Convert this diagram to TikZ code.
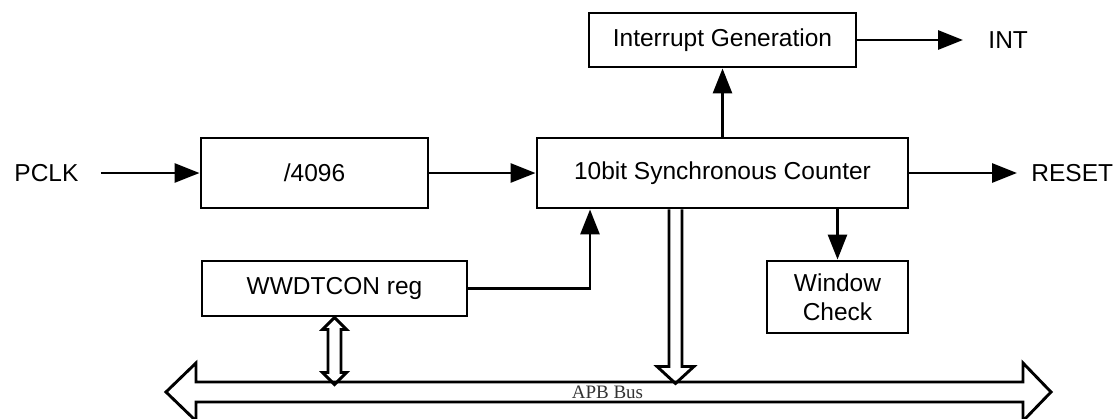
\documentclass[tikz,border=0pt]{standalone}
\usepackage{fontspec}
\setmainfont{Liberation Sans}
\newfontfamily\busfont{Liberation Serif}
\usetikzlibrary{arrows.meta}

\begin{document}
\begin{tikzpicture}[x=1pt, y=-1pt, line width=2.9pt,
		block/.style={draw, rectangle, inner sep=0pt, font=\fontsize{24.5}{29}\selectfont},
		lbl/.style={inner sep=0pt, anchor=west, font=\fontsize{24.5}{29}\selectfont},
		arr/.style={-{Triangle[length=25pt,width=19pt]}},
		hollow/.style={draw, line join=miter}]
	\useasboundingbox (0,0) rectangle (1120,418);

		\node[block, minimum width=227pt, minimum height=70pt] (div) at (314.5,173) {/4096};             % Делитель
		\node[block, minimum width=371pt, minimum height=70pt] (cnt) at (722.5,173) {10bit Synchronous Counter}; % Счётчик
		\node[block, minimum width=267pt, minimum height=54pt] (irq) at (722.5,40) {Interrupt Generation};
		\node[block, minimum width=265pt, minimum height=55pt] (wdt) at (334.5,288.5) {WWDTCON reg};
		\node[block, minimum width=141pt, minimum height=72pt, align=center] (win) at (837.5,297) {Window\\Check};

		\node[lbl] (pclk) at (13,173) {PCLK};
		\node[lbl] (int) at (987,40) {INT};
		\node[lbl] (reset) at (1030,173) {RESET};

		\draw[arr] ([xshift=21pt]pclk.east) -- (div.west); % Вход PCLK
		\draw[arr] (div.east) -- (cnt.west);
		\draw[arr] (cnt.north) -- (irq.south);
		\draw[arr] (irq.east) -- ([xshift=-24pt]int.west);
		\draw[arr] (cnt.east) -- ([xshift=-13pt]reset.west);
		\draw[arr] (wdt.east) -| ([xshift=-132.5pt]cnt.south);
		\draw[arr] (cnt.south -| win.north) -- (win.north);

		% Шина APB
		\draw[hollow] (166,392) -- (196,363) -- (196,382) -- (1023,382) -- (1023,363) -- (1051,392)
			-- (1023,421) -- (1023,402) -- (196,402) -- (196,421) -- cycle;
		\draw[hollow] ([xshift=-53.5pt]cnt.south) -- ++(0,157) -- ++(-12,0) -- ++(18.5,17) -- ++(18.5,-17)
			-- ++(-12,0) -- ++(0,-157);
		\draw[hollow] (wdt.south) -- ++(12,12) -- ++(-5.5,0) -- ++(0,43) -- ++(5.5,0) -- ++(-12,12)
			-- ++(-12,-12) -- ++(5.5,0) -- ++(0,-43) -- ++(-5.5,0) -- cycle;

	\begin{scope}
		\node[font=\busfont\fontsize{19}{21}\selectfont, text=black!80] (apb) at (607.5,392.5) {APB Bus};
	\end{scope}
\end{tikzpicture}
\end{document}
